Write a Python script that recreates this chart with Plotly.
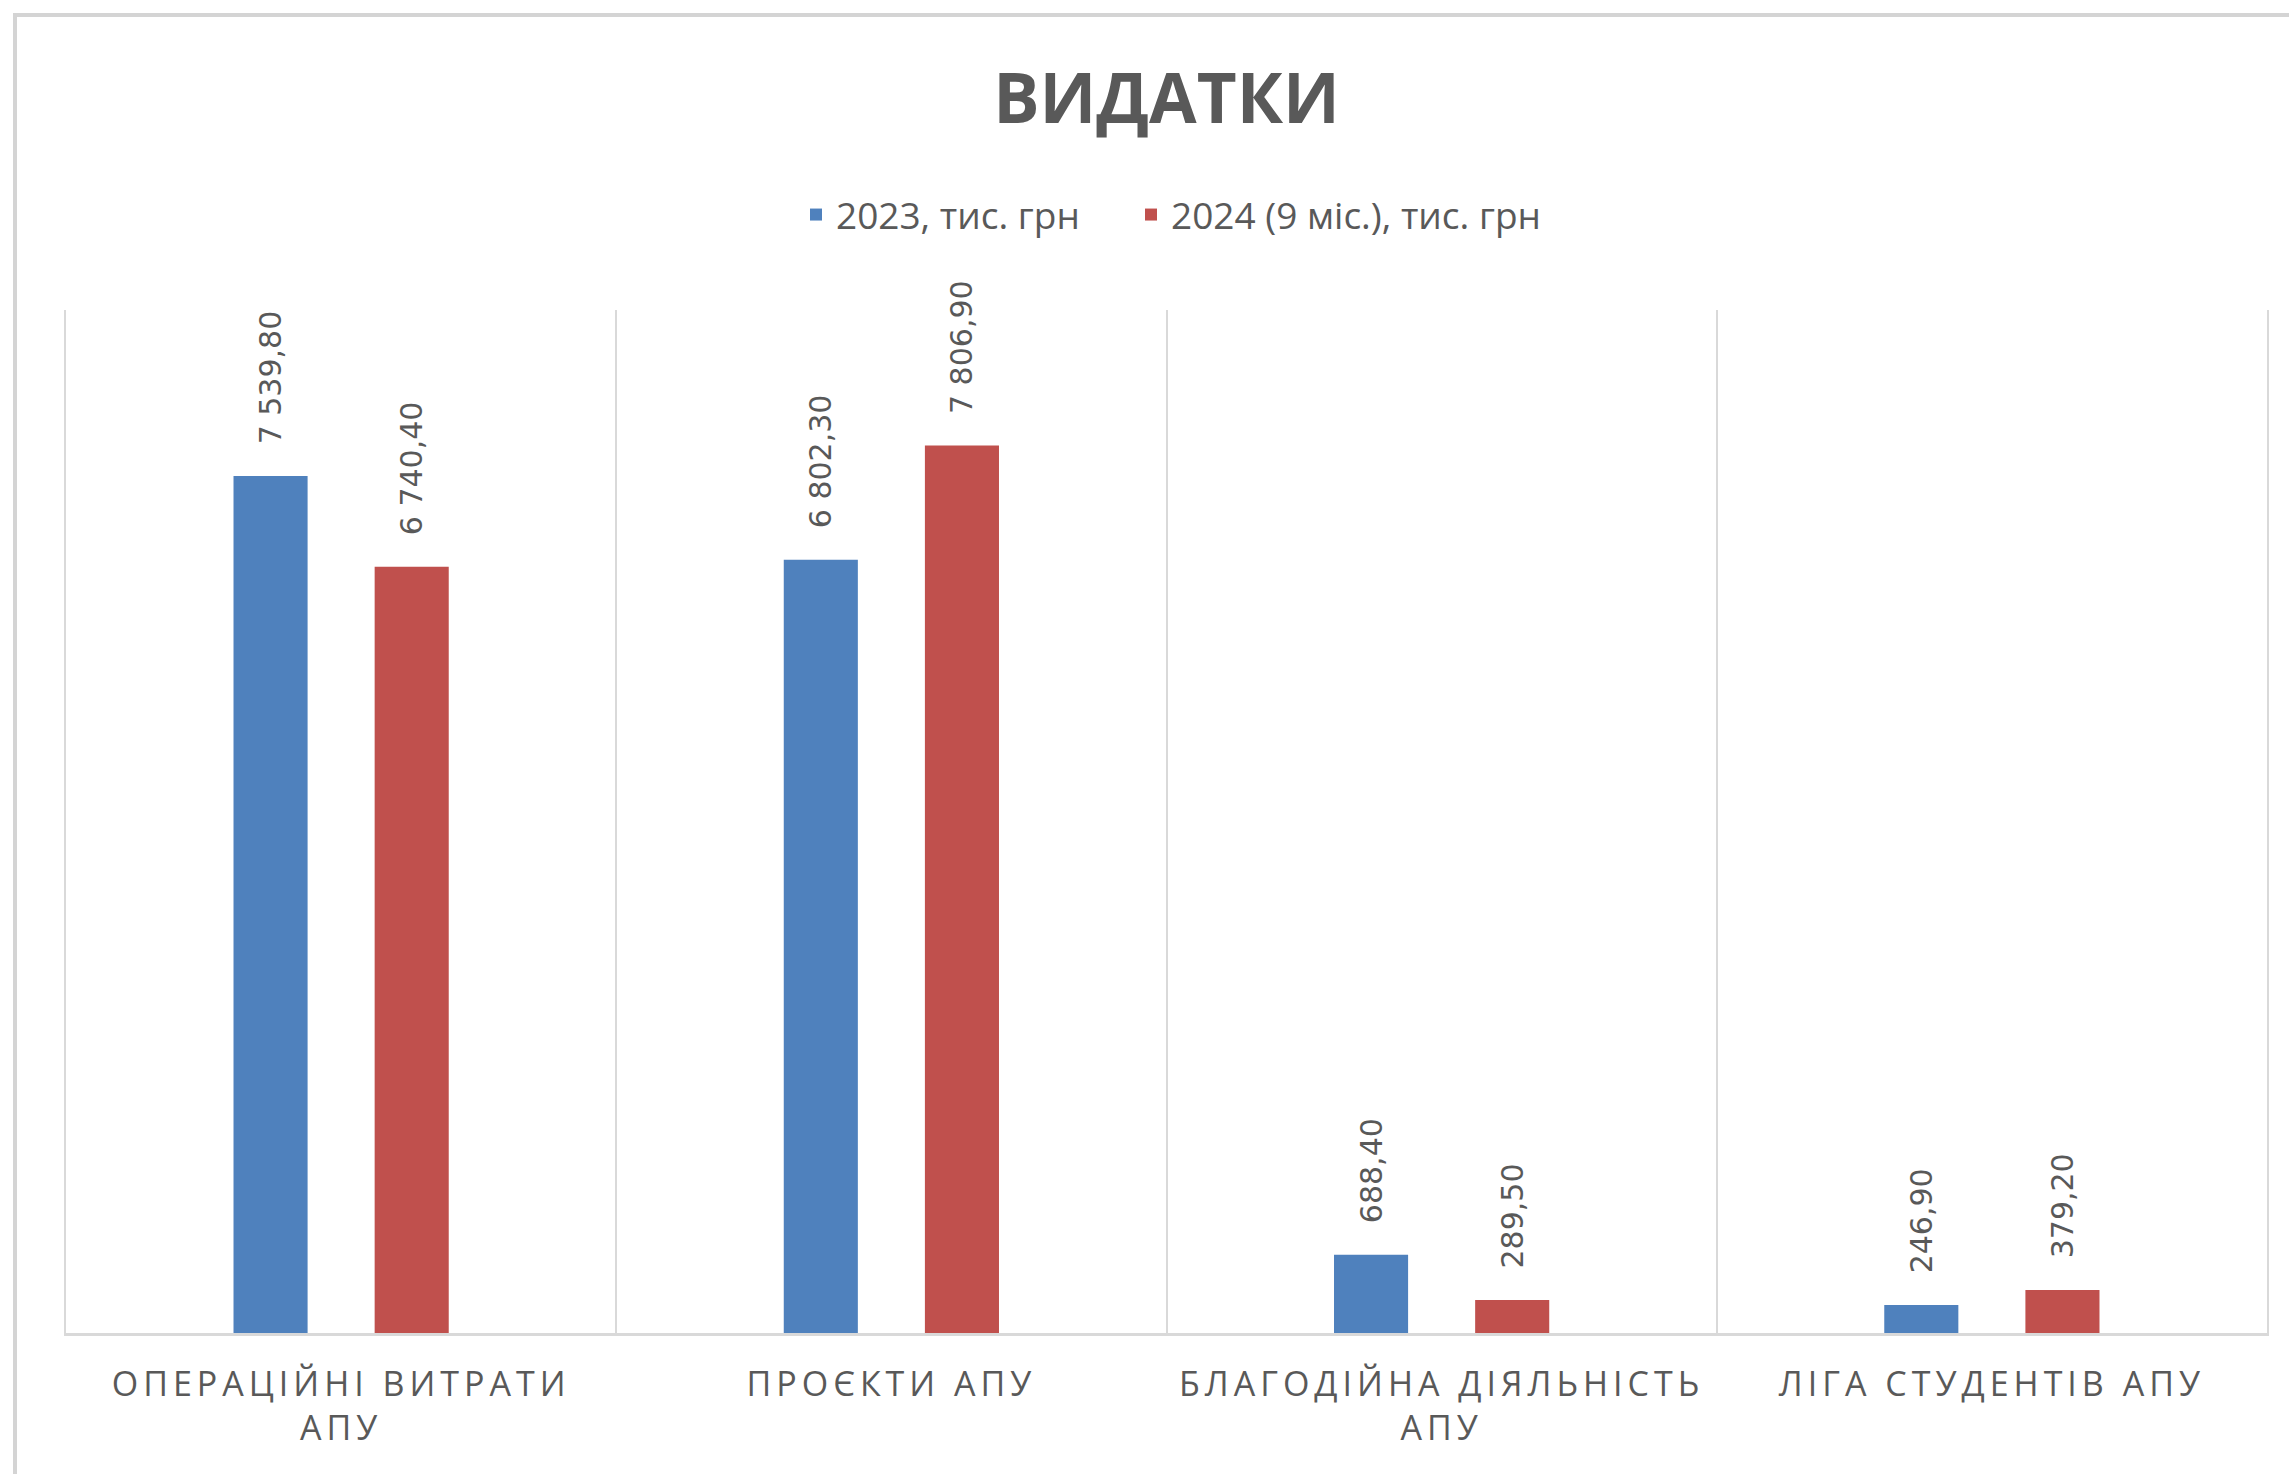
import plotly.graph_objects as go

categories = [
    "ОПЕРАЦІЙНІ ВИТРАТИ<br>АПУ",
    "ПРОЄКТИ АПУ",
    "БЛАГОДІЙНА ДІЯЛЬНІСТЬ<br>АПУ",
    "ЛІГА СТУДЕНТІВ АПУ",
]
series_names = ["2023, тис. грн", "2024 (9 міс.), тис. грн"]
values_2023 = [7539.80, 6802.30, 688.40, 246.90]
values_2024 = [6740.40, 7806.90, 289.50, 379.20]
colors = ["#4F81BD", "#C0504D"]

W, H = 2289, 1474
ML, MR, MT, MB = 66, 22, 310, 141
PW = W - ML - MR
PH = H - MT - MB

TEXT_GRAY = "#595959"
GRID = "#D9D9D9"

fig = go.Figure()
for name, vals, col, lg in zip(series_names, [values_2023, values_2024], colors, ["legend", "legend2"]):
    fig.add_trace(go.Bar(
        name=name,
        x=categories,
        y=vals,
        legend=lg,
        marker=dict(color=col, line=dict(width=0)),
        texttemplate="\u00a0\u00a0\u00a0%{y:,.2f}",
        textposition="outside",
        textangle=-90,
        constraintext="none",
        cliponaxis=False,
        outsidetextfont=dict(family="DejaVu Sans", size=30, color=TEXT_GRAY),
        hoverinfo="skip",
    ))

# outer chart border (Excel chart area frame)
fig.add_shape(
    type="rect", xref="paper", yref="paper",
    x0=(15 - ML) / PW, x1=1.1,
    y0=-0.3, y1=(H - MB - 15) / PH,
    line=dict(color="#D4D4D4", width=4),
    layer="below",
)

legend_common = dict(
    orientation="h",
    xanchor="left",
    yanchor="middle",
    y=(H - MB - 215) / PH,
    font=dict(family="Open Sans", size=37, color=TEXT_GRAY),
    bgcolor="rgba(0,0,0,0)",
)

fig.update_layout(
    width=W, height=H,
    margin=dict(l=ML, r=MR, t=MT, b=MB, pad=0),
    paper_bgcolor="white",
    plot_bgcolor="white",
    separators=", ",
    barmode="group",
    bargap=0.487,
    bargroupgap=0.475,
    title=dict(
        text="<b>ВИДАТКИ</b>",
        x=0.5, xref="paper", xanchor="center",
        y=1 - 99 / H, yref="container", yanchor="middle",
        font=dict(family="Open Sans", size=69, color=TEXT_GRAY),
    ),
    legend=dict(x=(796 - ML) / PW, **legend_common),
    legend2=dict(x=(1131 - ML) / PW, **legend_common),
    xaxis=dict(
        type="category",
        tickson="boundaries",
        showgrid=True, gridcolor=GRID, gridwidth=2,
        showline=True, linecolor=GRID, linewidth=3,
        ticks="", tickangle=0,
        ticklabelstandoff=19,
        tickfont=dict(family="Open Sans", size=34, color=TEXT_GRAY),
        zeroline=False,
        fixedrange=True,
    ),
    yaxis=dict(
        range=[0, 9000],
        showgrid=False, zeroline=False,
        showticklabels=False, ticks="",
        showline=True, linecolor=GRID, linewidth=2, mirror=True,
        fixedrange=True,
    ),
    showlegend=True,
)

post = """
(function(){
  document.body.style.margin = '0';
  document.body.style.padding = '0';
  function sp(){
    document.querySelectorAll('.xtick text').forEach(function(t){
      t.style.letterSpacing = '5px';
    });
  }
  sp();
  setTimeout(sp, 50);
})();
"""

fig.write_html("out.html", post_script=post, config={"displayModeBar": False})
